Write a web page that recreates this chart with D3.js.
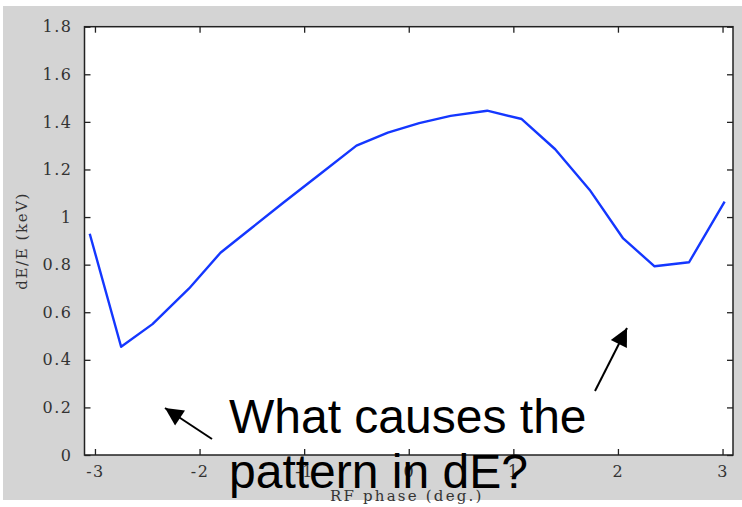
<!DOCTYPE html>
<html>
<head>
<meta charset="utf-8">
<script src="https://cdn.jsdelivr.net/npm/d3@7"></script>
<style>
  html, body { margin: 0; padding: 0; background: #ffffff; }
  svg { display: block; }
</style>
</head>
<body>
<svg id="chart" width="742" height="507"></svg>
<script>
// RF phase scan: energy spread versus phase
const phaseDeg = [-3.05, -2.75, -2.45, -2.1, -1.8, -1.5, -1.2, -0.85, -0.5, -0.2, 0.1, 0.4, 0.75, 1.08, 1.4, 1.73, 2.05, 2.35, 2.68, 3.02];
const energySpread = [0.93, 0.455, 0.55, 0.70, 0.85, 0.955, 1.06, 1.18, 1.30, 1.355, 1.395, 1.425, 1.447, 1.412, 1.285, 1.114, 0.91, 0.793, 0.81, 1.065];
const xTicks = [-3, -2, -1, 0, 1, 2, 3];
const yTicks = [0, 0.2, 0.4, 0.6, 0.8, 1, 1.2, 1.4, 1.6, 1.8];
const annotationLines = ["What causes the", "pattern in dE?"];

const svg = d3.select("#chart");
const W = 742;
const plot = { left: 84.5, top: 26.7, right: 733, bottom: 455 };
const serif = "'DejaVu Serif', 'Liberation Serif', serif";

// figure background
svg.append("rect").attr("x", 3).attr("y", 6).attr("width", W - 3).attr("height", 494)
  .attr("fill", "#d4d4d4");

const x = d3.scaleLinear().domain([-3.1, 3.1]).range([plot.left, plot.right]);
const y = d3.scaleLinear().domain([0, 1.8]).range([plot.bottom, plot.top]);

// axes area
svg.append("rect")
  .attr("x", plot.left).attr("y", plot.top)
  .attr("width", plot.right - plot.left).attr("height", plot.bottom - plot.top)
  .attr("fill", "#ffffff");

const tickLen = 6;
const fmtX = d => String(d);               // plain hyphen for negatives
const fmtY = d => String(+d.toFixed(1));

const axisStyle = g => {
  g.select(".domain").remove();
  g.selectAll(".tick line").attr("stroke", "#222").attr("stroke-width", 1.3);
  g.selectAll(".tick text")
    .attr("fill", "#333")
    .attr("font-family", serif)
    .attr("font-size", 16)
    .attr("letter-spacing", 1.5);
};

// bottom
svg.append("g").attr("transform", `translate(0,${plot.bottom})`)
  .call(d3.axisBottom(x).tickValues(xTicks).tickSizeInner(-tickLen).tickSizeOuter(0).tickPadding(11).tickFormat(fmtX))
  .call(axisStyle);
// top
svg.append("g").attr("transform", `translate(0,${plot.top})`)
  .call(d3.axisTop(x).tickValues(xTicks).tickSizeInner(-tickLen).tickSizeOuter(0).tickFormat(""))
  .call(axisStyle);
// left
svg.append("g").attr("transform", `translate(${plot.left},0)`)
  .call(d3.axisLeft(y).tickValues(yTicks).tickSizeInner(-tickLen).tickSizeOuter(0).tickPadding(12).tickFormat(fmtY))
  .call(axisStyle);
// right
svg.append("g").attr("transform", `translate(${plot.right},0)`)
  .call(d3.axisRight(y).tickValues(yTicks).tickSizeInner(-tickLen).tickSizeOuter(0).tickFormat(""))
  .call(axisStyle);

// axes box
svg.append("rect")
  .attr("x", plot.left).attr("y", plot.top)
  .attr("width", plot.right - plot.left).attr("height", plot.bottom - plot.top)
  .attr("fill", "none").attr("stroke", "#222").attr("stroke-width", 1.5);

// data line
const line = d3.line().x((d, i) => x(phaseDeg[i])).y(d => y(d));
svg.append("path")
  .datum(energySpread)
  .attr("d", line)
  .attr("fill", "none")
  .attr("stroke", "#1437ff")
  .attr("stroke-width", 2.4)
  .attr("stroke-linejoin", "round");

// axis titles
svg.append("text")
  .attr("x", x(0) - 2).attr("y", 501)
  .attr("text-anchor", "middle")
  .attr("font-family", serif)
  .attr("font-size", 15)
  .attr("letter-spacing", 2.2)
  .attr("fill", "#333")
  .text("RF phase (deg.)");

svg.append("text")
  .attr("transform", `translate(27,${(plot.top + plot.bottom) / 2}) rotate(-90)`)
  .attr("text-anchor", "middle")
  .attr("font-family", serif)
  .attr("font-size", 15)
  .attr("letter-spacing", 1.6)
  .attr("fill", "#333")
  .text("dE/E (keV)");

// annotation arrows
svg.append("defs").append("marker")
  .attr("id", "head")
  .attr("viewBox", "0 0 10 10")
  .attr("refX", 10).attr("refY", 5)
  .attr("markerUnits", "userSpaceOnUse")
  .attr("markerWidth", 22).attr("markerHeight", 18)
  .attr("orient", "auto")
  .append("path").attr("d", "M0,0 L10,5 L0,10 Z").attr("fill", "#000");

const arrows = [
  { from: [212, 439], to: [165, 408] },
  { from: [595, 391], to: [627, 328] }
];
svg.selectAll(".arrow").data(arrows).enter().append("line")
  .attr("class", "arrow")
  .attr("x1", d => d.from[0]).attr("y1", d => d.from[1])
  .attr("x2", d => d.to[0]).attr("y2", d => d.to[1])
  .attr("stroke", "#000").attr("stroke-width", 2)
  .attr("marker-end", "url(#head)");

// annotation text
svg.selectAll(".note").data(annotationLines).enter().append("text")
  .attr("class", "note")
  .attr("x", 229).attr("y", (d, i) => 433 + i * 55)
  .attr("font-family", "'Liberation Sans', Arial, sans-serif")
  .attr("font-size", 48)
  .attr("fill", "#000")
  .text(d => d);
</script>
</body>
</html>
